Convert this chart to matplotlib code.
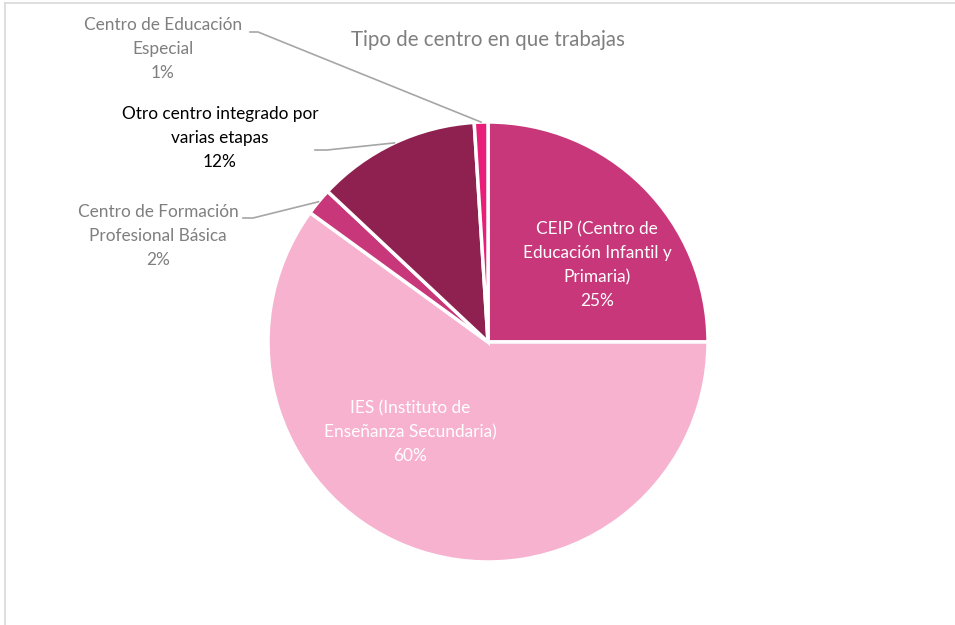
import numpy as np
import matplotlib
matplotlib.use("Agg")
import matplotlib.pyplot as plt

# data, clockwise from 12 o'clock
categories = [
    "CEIP (Centro de\nEducación Infantil y\nPrimaria)",
    "IES (Instituto de\nEnseñanza Secundaria)",
    "Centro de Formación\nProfesional Básica",
    "Otro centro integrado por\nvarias etapas",
    "Centro de Educación\nEspecial",
]
shares = [25, 60, 2, 12, 1]
colors = ["#C8377A", "#F7B2CF", "#C8377A", "#8E2150", "#E81E78"]

plt.rcParams["font.family"] = ["Lato", "DejaVu Sans"]

W, H = 955, 625
fig = plt.figure(figsize=(W / 100, H / 100), dpi=100)
ax = fig.add_axes([0, 0, 1, 1])

cx, cy, r = 488, H - 342, 220
wedges, _ = ax.pie(shares, colors=colors, startangle=90, counterclock=False,
                   center=(cx, cy), radius=r, frame=True,
                   wedgeprops=dict(edgecolor="white", linewidth=2.5))
ax.set_xlim(0, W)
ax.set_ylim(0, H)
ax.set_aspect("equal")
ax.axis("off")

# chart border (only left/top visible in the reference)
ax.plot([5, 5], [0, H - 3], color="#D9D9D9", lw=1.2)
ax.plot([5, W], [H - 3, H - 3], color="#D9D9D9", lw=1.2)

ax.text(cx, H - 40, "Tipo de centro en que trabajas", ha="center", va="center",
        fontsize=14.8, color="#7F7F7F")

FS, LS = 12.4, 1.6

# labels inside
ax.text(597, H - 265, f"{categories[0]}\n{shares[0]}%", ha="center", va="center",
        fontsize=FS, color="white", linespacing=LS)
ax.text(410, H - 432, f"{categories[1]}\n{shares[1]}%", ha="center", va="center",
        fontsize=FS, color="white", linespacing=LS)

# outside labels with leader lines
outside = [
    # idx, text centre, elbow start, elbow end, text colour
    (4, (163, 49), (250, 32), (258, 32), "#7F7F7F"),
    (3, (220, 138), (315, 150), (327, 150), "#000000"),
    (2, (158, 236), (243, 218), (253, 218), "#7F7F7F"),
]
for idx, (tx, ty), (x0, y0), (x1, y1), tc in outside:
    w = wedges[idx]
    mid = np.deg2rad((w.theta1 + w.theta2) / 2)
    ex, ey = cx + r * np.cos(mid), cy + r * np.sin(mid)
    ax.plot([x0, x1, ex], [H - y0, H - y1, ey], color="#A6A6A6", lw=1.2)
    ax.text(tx, H - ty, f"{categories[idx]}\n{shares[idx]}%", ha="center",
            va="center", fontsize=FS, color=tc, linespacing=LS)

fig.savefig("out.png", dpi=100)
